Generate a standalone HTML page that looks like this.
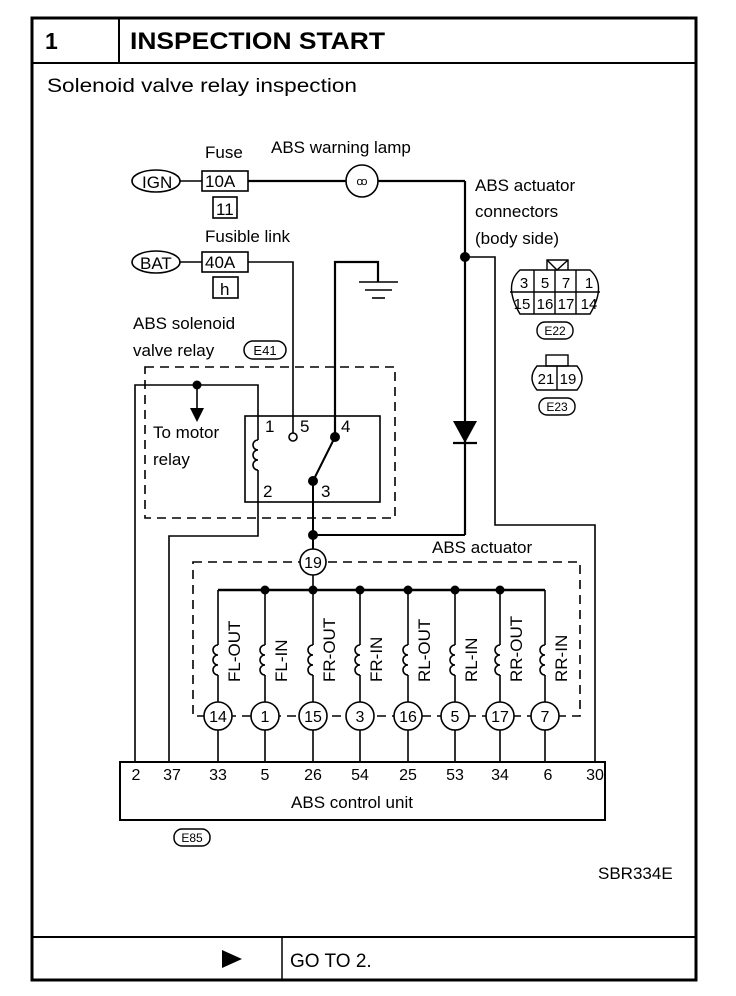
<!DOCTYPE html>
<html><head><meta charset="utf-8"><style>
body{margin:0;background:#fff}
svg{display:block}
text{font-family:"Liberation Sans",Arial,sans-serif;fill:#000}
</style></head><body>
<svg width="736" height="996" viewBox="0 0 736 996" xmlns="http://www.w3.org/2000/svg">
<defs>
<g id="c"><line x1="0" y1="590" x2="0" y2="645"/><path d="M0,645 a5,5 0 0 0 0,10 a5,5 0 0 0 0,10 a5,5 0 0 0 0,10"/><line x1="0" y1="675" x2="0" y2="702"/><circle cx="0" cy="716" r="14" fill="#fff"/><line x1="0" y1="730" x2="0" y2="762"/></g>
</defs>
<g fill="none" stroke="#000">
<rect x="32" y="18" width="664" height="962" stroke-width="3"/>
<line x1="32" y1="63" x2="696" y2="63" stroke-width="2"/>
<line x1="119" y1="18" x2="119" y2="63" stroke-width="2"/>
<line x1="32" y1="937" x2="696" y2="937" stroke-width="2"/>
<line x1="282" y1="937" x2="282" y2="980" stroke-width="1.5"/>
</g>
<text x="45" y="49" font-size="23" font-weight="bold">1</text>
<text x="130" y="49" font-size="24" font-weight="bold" textLength="255" lengthAdjust="spacingAndGlyphs">INSPECTION START</text>
<text x="47" y="92" font-size="19" textLength="310" lengthAdjust="spacingAndGlyphs">Solenoid valve relay inspection</text>
<polygon points="222,950 222,968 242,959" fill="#000"/>
<text x="290" y="967" font-size="19">GO TO 2.</text>
<text x="598" y="879" font-size="17">SBR334E</text>

<g fill="none" stroke="#000" stroke-width="1.6">
<ellipse cx="156" cy="181" rx="24" ry="11"/>
<line x1="180" y1="181" x2="202" y2="181"/>
<rect x="202" y="171" width="46" height="20"/>
<rect x="213" y="197" width="24" height="21"/>
<line x1="248" y1="181" x2="346" y2="181" stroke-width="2.2"/>
<circle cx="362" cy="181" r="16"/>
<line x1="378" y1="181" x2="465" y2="181" stroke-width="2.2"/>
<line x1="465" y1="181" x2="465" y2="535" stroke-width="2.2"/>
<ellipse cx="156" cy="262" rx="24" ry="11"/>
<line x1="180" y1="262" x2="202" y2="262"/>
<rect x="202" y="252" width="46" height="20"/>
<rect x="213" y="277" width="25" height="21"/>
<polyline points="248,262 293,262 293,433"/>
<circle cx="293" cy="437" r="4"/>
<polyline points="335,437 335,262 378,262 378,282" stroke-width="2.2"/>
<line x1="359" y1="282" x2="398" y2="282"/>
<line x1="365" y1="290" x2="392" y2="290"/>
<line x1="372" y1="298" x2="385" y2="298"/>
<polyline points="465,257 495,257 495,525 595,525 595,762"/>
<line x1="453" y1="443" x2="477" y2="443" stroke-width="2.2"/>
<rect x="145" y="367" width="250" height="151" stroke-dasharray="9,6"/>
<rect x="245" y="416" width="135" height="86"/>
<polyline points="135,762 135,385 258,385 258,440"/>
<path d="M258,440 a5,5 0 0 0 0,10 a5,5 0 0 0 0,10 a5,5 0 0 0 0,10"/>
<polyline points="258,470 258,536 169,536 169,762"/>
<line x1="197" y1="385" x2="197" y2="410"/>
<line x1="313" y1="481" x2="335" y2="437" stroke-width="2"/>
<line x1="313" y1="481" x2="313" y2="549" stroke-width="2"/>
<line x1="313" y1="535" x2="465" y2="535" stroke-width="2"/>
<rect x="193" y="562" width="387" height="154" stroke-dasharray="9,6"/>
<circle cx="313" cy="562" r="13" fill="#fff"/>
<line x1="313" y1="575" x2="313" y2="590"/>
<line x1="218" y1="590" x2="545" y2="590" stroke-width="2.4"/>
<rect x="120" y="762" width="485" height="58" stroke-width="2"/>
</g>
<polygon points="190,408 204,408 197,422" fill="#000"/>
<polygon points="453,421 477,421 465,443" fill="#000"/>
<g fill="#000">
<circle cx="197" cy="385" r="4.5"/><circle cx="335" cy="437" r="5"/><circle cx="313" cy="481" r="5"/>
<circle cx="313" cy="535" r="5"/><circle cx="465" cy="257" r="5"/>
<circle cx="265" cy="590" r="4.5"/><circle cx="313" cy="590" r="4.5"/><circle cx="360" cy="590" r="4.5"/>
<circle cx="408" cy="590" r="4.5"/><circle cx="455" cy="590" r="4.5"/><circle cx="500" cy="590" r="4.5"/>
</g>
<g fill="none" stroke="#000" stroke-width="1.6">
<use href="#c" x="218"/><use href="#c" x="265"/><use href="#c" x="313"/><use href="#c" x="360"/>
<use href="#c" x="408"/><use href="#c" x="455"/><use href="#c" x="500"/><use href="#c" x="545"/>
</g>
<g font-size="16" text-anchor="middle">
<text x="218" y="722">14</text><text x="265" y="722">1</text><text x="313" y="722">15</text><text x="360" y="722">3</text>
<text x="408" y="722">16</text><text x="455" y="722">5</text><text x="500" y="722">17</text><text x="545" y="722">7</text>
<text x="313" y="568">19</text>
</g>
<g font-size="17">
<text transform="translate(240,682) rotate(-90)">FL-OUT</text>
<text transform="translate(287,682) rotate(-90)">FL-IN</text>
<text transform="translate(335,682) rotate(-90)">FR-OUT</text>
<text transform="translate(382,682) rotate(-90)">FR-IN</text>
<text transform="translate(430,682) rotate(-90)">RL-OUT</text>
<text transform="translate(477,682) rotate(-90)">RL-IN</text>
<text transform="translate(522,682) rotate(-90)">RR-OUT</text>
<text transform="translate(567,682) rotate(-90)">RR-IN</text>
</g>
<g font-size="16" text-anchor="middle">
<text x="136" y="780">2</text><text x="172" y="780">37</text><text x="218" y="780">33</text><text x="265" y="780">5</text>
<text x="313" y="780">26</text><text x="360" y="780">54</text><text x="408" y="780">25</text><text x="455" y="780">53</text>
<text x="500" y="780">34</text><text x="548" y="780">6</text><text x="595" y="780">30</text>
</g>
<text x="352" y="808" font-size="17" text-anchor="middle">ABS control unit</text>
<rect x="174" y="829" width="36" height="17" rx="8" fill="none" stroke="#000" stroke-width="1.5"/>
<text x="192" y="842" font-size="12" text-anchor="middle">E85</text>

<g font-size="17">
<text x="205" y="158">Fuse</text>
<text x="271" y="153">ABS warning lamp</text>
<text x="142" y="188">IGN</text>
<text x="205" y="187">10A</text>
<text x="216" y="215">11</text>
<text x="205" y="242">Fusible link</text>
<text x="140" y="269">BAT</text>
<text x="205" y="268">40A</text>
<text x="220" y="295">h</text>
<text x="133" y="329">ABS solenoid</text>
<text x="133" y="356">valve relay</text>
<text x="475" y="191">ABS actuator</text>
<text x="475" y="217">connectors</text>
<text x="475" y="244">(body side)</text>
<text x="153" y="438">To motor</text>
<text x="153" y="465">relay</text>
<text x="432" y="553">ABS actuator</text>
<text x="265" y="432">1</text><text x="300" y="432">5</text><text x="341" y="432">4</text>
<text x="263" y="497">2</text><text x="321" y="497">3</text>
</g>
<text x="362" y="185" font-size="11" text-anchor="middle">ꝏ</text>
<rect x="244" y="341" width="42" height="18" rx="9" fill="none" stroke="#000" stroke-width="1.5"/>
<text x="265" y="355" font-size="13" text-anchor="middle">E41</text>

<g fill="none" stroke="#000" stroke-width="1.4">
<polyline points="547,270 547,260 568,260 568,270"/>
<polyline points="547,260 557,270 568,260"/>
<path d="M520,270 L590,270 Q607,285 590,314 L520,314 Q503,285 520,270 Z"/>
<line x1="510" y1="292" x2="600" y2="292"/>
<line x1="534" y1="270" x2="534" y2="314"/><line x1="555" y1="270" x2="555" y2="314"/><line x1="576" y1="270" x2="576" y2="314"/>
<rect x="537" y="322" width="36" height="17" rx="8"/>
<rect x="546" y="355" width="22" height="11"/>
<path d="M537,366 L577,366 Q587,378 577,390 L537,390 Q527,378 537,366 Z"/>
<line x1="557" y1="366" x2="557" y2="390"/>
<rect x="539" y="398" width="36" height="17" rx="8"/>
</g>
<g font-size="15" text-anchor="middle">
<text x="524" y="288">3</text><text x="545" y="288">5</text><text x="566" y="288">7</text><text x="589" y="288">1</text>
<text x="522" y="309">15</text><text x="545" y="309">16</text><text x="566" y="309">17</text><text x="589" y="309">14</text>
<text x="546" y="384">21</text><text x="568" y="384">19</text>
</g>
<text x="555" y="335" font-size="12" text-anchor="middle">E22</text>
<text x="557" y="411" font-size="12" text-anchor="middle">E23</text>
</svg>
</body></html>
